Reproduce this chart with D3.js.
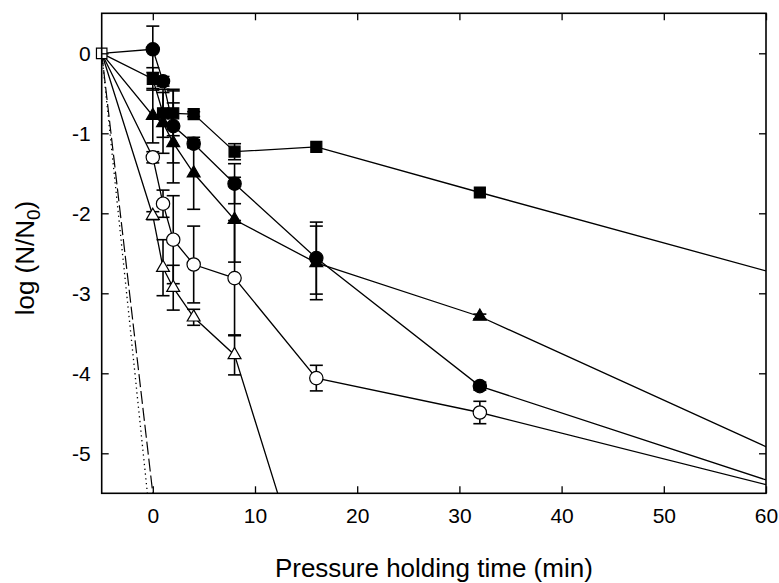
<!DOCTYPE html>
<html>
<head>
<meta charset="utf-8">
<script src="https://cdn.jsdelivr.net/npm/d3@7/dist/d3.min.js"></script>
<style>
  body { margin: 0; background: #fff; }
  text { font-family: "Liberation Sans", Arial, sans-serif; fill: #000; }
</style>
</head>
<body>
<div id="chart"></div>
<script>
// pressure holding time (min); -5 is the start of come-up, 64 lies past the axis end
const times = [-5, 0, 1, 2, 4, 8, 16, 32, 64];

// log(N/N0) per series
const filledSquare   = [0, -0.32, -0.75, -0.75, -0.76, -1.23, -1.17, -1.74, -2.86];
const filledCircle   = [0, 0.05, -0.35, -0.91, -1.13, -1.63, -2.56, -4.16, -5.50];
const filledTriangle = [0, -0.78, -0.87, -1.12, -1.50, -2.08, -2.62, -3.29, -5.15];
const openCircle     = [0, -1.30, -1.88, -2.33, -2.64, -2.81, -4.06, -4.49, -5.52];
const openTriangle   = [0, -2.03, -2.68, -2.93, -3.30, -3.77, -7.05];

// error bar half widths
const errSquare   = [0, 0.14, 0.30, 0.28, 0.03, 0.10, 0, 0, 0];
const errCircle   = [0, 0.29, 0.06, 0.46, 0.05, 0.25, 0.45, 0.05, 0];
const errTriangle = [0, 0.34, 0.38, 0.50, 0.45, 0.53, 0.46, 0.03, 0];
const errOCircle  = [0, 0.07, 0.17, 0.55, 0.48, 0.72, 0.16, 0.14, 0];
const errOTri     = [0, 0.05, 0.35, 0.28, 0.10, 0.25, 0];

// two steep reference lines from the start point
const dashTimes = [-5, 0];
const dashVals = [0, -5.5];
const dotTimes = [-5, -0.53];
const dotVals = [0, -5.5];

const xTicks = [0, 10, 20, 30, 40, 50, 60];
const yTicks = [0, -1, -2, -3, -4, -5];

let margin = { top: 13.3, right: 13, bottom: 89.7, left: 101.7 },
  width = 779 - margin.left - margin.right,
  height = 583 - margin.top - margin.bottom;

let svg = d3.select("#chart")
  .append("svg")
  .attr("width", 779)
  .attr("height", 583)
  .append("g")
  .attr("transform", "translate(" + margin.left + "," + margin.top + ")");

let x = d3.scaleLinear().domain([-5, 60]).range([0, width]);
let y = d3.scaleLinear().domain([-5.5, 0.5]).range([height, 0]);

svg.append("clipPath").attr("id", "plotclip")
  .append("rect").attr("width", width).attr("height", height);

function pts(ts, vs, es) {
  return vs.map((v, i) => ({ t: ts[i], v: v, e: es ? es[i] : 0 }));
}

let series = [
  { data: pts(times, filledSquare, errSquare), sym: d3.symbolSquare, size: 121, fill: "#000" },
  { data: pts(times, filledCircle, errCircle), sym: d3.symbolCircle, size: 140, fill: "#000" },
  { data: pts(times, filledTriangle, errTriangle), sym: d3.symbolTriangle, size: 72, fill: "#000" },
  { data: pts(times, openCircle, errOCircle), sym: d3.symbolCircle, size: 140, fill: "#fff" },
  { data: pts(times, openTriangle, errOTri), sym: d3.symbolTriangle, size: 72, fill: "#fff" }
];

let line = d3.line().x(d => x(d.t)).y(d => y(d.v));

let lines = svg.append("g").attr("clip-path", "url(#plotclip)");

lines.append("path")
  .datum(pts(dashTimes, dashVals))
  .attr("d", line)
  .attr("fill", "none").attr("stroke", "#000").attr("stroke-width", 1.2)
  .attr("stroke-dasharray", "13,4");

lines.append("path")
  .datum(pts(dotTimes, dotVals))
  .attr("d", line)
  .attr("fill", "none").attr("stroke", "#000").attr("stroke-width", 1.3)
  .attr("stroke-dasharray", "1.3,3.5");

series.forEach(s => {
  lines.append("path")
    .datum(s.data)
    .attr("d", line)
    .attr("fill", "none")
    .attr("stroke", "#000")
    .attr("stroke-width", 1.3);
});

// error bars
let inside = d => d.t <= 60 && d.v >= -5.5;
series.forEach(s => {
  let eb = svg.append("g").selectAll("g")
    .data(s.data.filter(d => inside(d) && d.e > 0))
    .enter().append("g")
    .attr("stroke", "#000").attr("stroke-width", 1.6);
  eb.append("line")
    .attr("x1", d => x(d.t)).attr("x2", d => x(d.t))
    .attr("y1", d => y(d.v + d.e)).attr("y2", d => y(d.v - d.e));
  eb.append("line")
    .attr("x1", d => x(d.t) - 6.5).attr("x2", d => x(d.t) + 6.5)
    .attr("y1", d => y(d.v + d.e)).attr("y2", d => y(d.v + d.e));
  eb.append("line")
    .attr("x1", d => x(d.t) - 6.5).attr("x2", d => x(d.t) + 6.5)
    .attr("y1", d => y(d.v - d.e)).attr("y2", d => y(d.v - d.e));
});

// markers (the shared start point gets an open square)
series.forEach(s => {
  svg.append("g").selectAll("path")
    .data(s.data.filter(d => inside(d) && d.t > -5))
    .enter().append("path")
    .attr("transform", d => "translate(" + x(d.t) + "," + y(d.v) + ")")
    .attr("d", d3.symbol().type(s.sym).size(s.size))
    .attr("fill", s.fill)
    .attr("stroke", "#000")
    .attr("stroke-width", 1.2);
});

svg.append("path")
  .attr("transform", "translate(" + x(times[0]) + "," + y(filledCircle[0]) + ")")
  .attr("d", d3.symbol().type(d3.symbolSquare).size(110))
  .attr("fill", "#fff").attr("stroke", "#000").attr("stroke-width", 1.2);

// axes with inward ticks on all four sides
function styleAxis(g) {
  g.select(".domain").remove();
  g.selectAll(".tick line").attr("stroke", "#000").attr("stroke-width", 1.3);
  g.selectAll("text").attr("font-size", 21).attr("fill", "#000")
    .attr("font-family", "'Liberation Sans', Arial, sans-serif");
}

svg.append("g")
  .attr("transform", "translate(0," + height + ")")
  .call(d3.axisBottom(x).tickValues(xTicks).tickSize(-7).tickPadding(15).tickFormat(d => String(d)))
  .call(styleAxis);

svg.append("g")
  .call(d3.axisTop(x).tickValues(xTicks).tickSize(-7).tickFormat(""))
  .call(styleAxis);

svg.append("g")
  .call(d3.axisLeft(y).tickValues(yTicks).tickSize(-7).tickPadding(11).tickFormat(d => String(d)))
  .call(styleAxis);

svg.append("g")
  .attr("transform", "translate(" + width + ",0)")
  .call(d3.axisRight(y).tickValues(yTicks).tickSize(-7).tickFormat(""))
  .call(styleAxis);

svg.append("rect")
  .attr("width", width).attr("height", height)
  .attr("fill", "none").attr("stroke", "#000").attr("stroke-width", 1.6);

// axis titles
svg.append("text")
  .attr("x", width / 2)
  .attr("y", height + 84)
  .attr("text-anchor", "middle")
  .attr("font-size", 26)
  .text("Pressure holding time (min)");

let yl = svg.append("text")
  .attr("transform", "translate(" + (34 - margin.left) + "," + (258 - margin.top) + ") rotate(-90)")
  .attr("text-anchor", "middle")
  .attr("font-size", 26);
yl.append("tspan").text("log (N/N");
yl.append("tspan").attr("font-size", 19).attr("dy", 6).text("0");
yl.append("tspan").attr("dy", -6).text(")");
</script>
</body>
</html>
